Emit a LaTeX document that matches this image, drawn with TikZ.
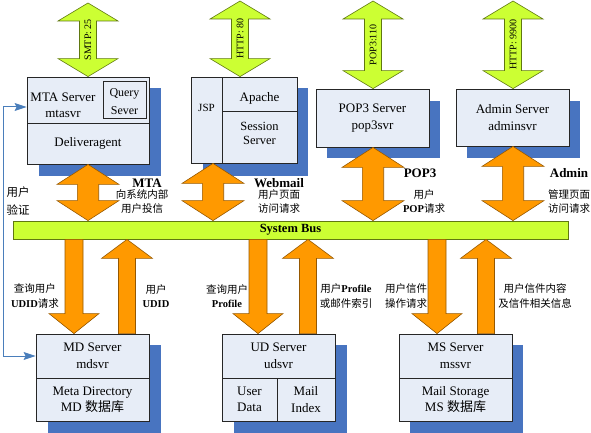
\documentclass[tikz,border=0pt]{standalone}
\usepackage{fontspec}
\setmainfont{Liberation Serif}
\newfontfamily\cjk{Noto Sans CJK SC}
\usetikzlibrary{calc,arrows.meta}
\definecolor{boxfill}{RGB}{231,237,247}
\definecolor{shadowblue}{RGB}{72,116,192}
\definecolor{limefill}{RGB}{204,255,51}
\definecolor{limeedge}{RGB}{96,120,16}
\definecolor{orangefill}{RGB}{255,153,0}
\definecolor{orangeedge}{RGB}{150,88,0}
\definecolor{linkblue}{RGB}{74,126,187}
\newcommand\zh[1]{{\cjk #1}}
\newcommand\bflat[1]{{\rmfamily\bfseries #1}}
% #1 style, #2 top tip, #3 bottom tip, #4 head half width, #5 shaft half width, #6 head length
\newcommand\dblarrow[6]{%
  \filldraw[#1] (#2) -- ++(#4,#6) -- ++(#5-#4,0) -- ($(#3)+(#5,-#6)$) -- ++(#4-#5,0)
    -- (#3) -- ++(-#4,-#6) -- ++(#4-#5,0) -- ($(#2)+(-#5,#6)$) -- ++(#5-#4,0) -- cycle;}
% #1 style, #2 tail, #3 tip, #4 head half width, #5 shaft half width, #6 head offset
\newcommand\onearrow[6]{%
  \filldraw[#1] ($(#2)+(-#5,0)$) -- ($(#3)+(-#5,#6)$) -- ++(#5-#4,0) -- (#3)
    -- ($(#3)+(#4,#6)$) -- ++(#5-#4,0) -- ($(#2)+(#5,0)$) -- cycle;}
\tikzset{
  box/.style={draw=black!85, fill=boxfill, line width=0.8pt, inner sep=0pt, align=center,
    font=\fontsize{13}{16.5}\selectfont},
  txt/.style={inner sep=0pt, align=center, font=\fontsize{13}{16}\selectfont},
  bus/.style={draw=limeedge, fill=limefill, line width=0.8pt, inner sep=0pt,
    font=\bfseries\fontsize{12.5}{12.5}\selectfont},
  greenarr/.style={fill=limefill, draw=limeedge, line width=0.6pt},
  orangearr/.style={fill=orangefill, draw=orangeedge, line width=0.6pt},
  portlbl/.style={rotate=90, inner sep=0pt, font=\fontsize{10}{10}\selectfont},
  headlbl/.style={inner sep=0pt, font=\bfseries\fontsize{13}{13}\selectfont},
  zhlbl/.style={inner sep=0pt, align=center, font=\cjk\fontsize{10.5}{14.5}\selectfont},
  link/.style={linkblue, line width=1pt,
    {Stealth[length=12pt,width=8pt,inset=2pt]}-{Stealth[length=12pt,width=8pt,inset=2pt]}},
}
\begin{document}
\begin{tikzpicture}[x=1pt, y=-1pt]
  \useasboundingbox (0,0) rectangle (591,433);
  % shadows behind the servers
  \foreach \a/\b/\c/\d in {39/88/161/176, 203/88/308/176, 327/101/440/158, 467/101/580/158,
      48/345/161/433, 234/345/347/433, 410/345/523/433}
    \fill[shadowblue] (\a,\b) rectangle (\c,\d);

  % servers
  \node[box, minimum width=122, minimum height=46] (mtatop) at (88,100) {};
  \node[box, minimum width=122, minimum height=41] (mtabot) at (88,143.5) {Deliveragent};
  \node[box, minimum width=43, minimum height=37] (query) at (124.5,99.5) {};
  \node[txt, font=\fontsize{12}{18}\selectfont] (querytxt) at (124.5,102) {Query\\Sever};
  \node[txt] (mtaname) at (63,105) {MTA Server\\mtasvr};
  \node[box, minimum width=31, minimum height=86] (jsp) at (206.5,120) {};
  \node[txt, font=\fontsize{11}{14}\selectfont] (jsptxt) at (206.5,108) {JSP};
  \node[box, minimum width=75, minimum height=34] (apache) at (259.5,94) {};
  \node[txt] (apachetxt) at (259.5,98) {Apache};
  \node[box, minimum width=75, minimum height=52] (session) at (259.5,137) {};
  \node[txt, font=\fontsize{12.5}{14}\selectfont] (sessiontxt) at (259.5,133) {Session\\Server};
  \node[box, minimum width=113, minimum height=58] (pop) at (372.5,118) {POP3 Server\\pop3svr};
  \node[box, minimum width=113, minimum height=57] (admin) at (512.5,117.5) {Admin Server\\adminsvr};
  \node[box, minimum width=113, minimum height=44] (mdtop) at (92.5,356) {MD Server\\mdsvr};
  \node[box, minimum width=113, minimum height=43] (mdbot) at (92.5,399.5) {Meta Directory\\MD \zh{数据库}};
  \node[box, minimum width=113, minimum height=44] (udtop) at (278.5,356) {UD Server\\udsvr};
  \node[box, minimum width=55, minimum height=43] (uduser) at (249.5,399.5) {User\\Data};
  \node[box, minimum width=58, minimum height=43] (udmail) at (306,399.5) {Mail\\Index};
  \node[box, minimum width=113, minimum height=44] (mstop) at (455.5,356) {MS Server\\mssvr};
  \node[box, minimum width=113, minimum height=43] (msbot) at (455.5,399.5) {Mail Storage\\MS \zh{数据库}};

  \node[bus, minimum width=555, minimum height=18] (bus) at (290.5,230) {System Bus};

  % outside ports
  \coordinate (smtp) at (88,3);
  \coordinate (http) at (240,1);
  \coordinate (pop3) at (373,1);
  \coordinate (mgmt) at (513,1);
  \dblarrow{greenarr}{smtp}{mtatop.north -| smtp}{30}{8.5}{18}
  \dblarrow{greenarr}{http}{apache.north -| http}{30}{8.5}{18}
  \dblarrow{greenarr}{pop3}{pop.north -| pop3}{30}{8.5}{18}
  \dblarrow{greenarr}{mgmt}{admin.north -| mgmt}{30}{8.5}{18}
  \node[portlbl] (smtplbl) at ($(smtp)!0.5!(mtatop.north -| smtp)$) {SMTP: 25};
  \node[portlbl] (httplbl) at ($(http)!0.5!(apache.north -| http)$) {HTTP: 80};
  \node[portlbl] (pop3lbl) at ($(pop3)!0.5!(pop.north -| pop3)$) {POP3:110};
  \node[portlbl] (mgmtlbl) at ($(mgmt)!0.5!(admin.north -| mgmt)$) {HTTP: 9900};

  % front ends to bus
  \coordinate (xmta) at (88,0);
  \coordinate (xweb) at (213,0);
  \dblarrow{orangearr}{mtabot.south -| xmta}{bus.north -| xmta}{31}{10.7}{20}
  \dblarrow{orangearr}{jsp.south -| xweb}{bus.north -| xweb}{31}{10.7}{20}
  \dblarrow{orangearr}{pop.south -| pop3}{bus.north -| pop3}{31}{10.7}{20}
  \dblarrow{orangearr}{admin.south -| mgmt}{bus.north -| mgmt}{31}{10.7}{20}

  % bus to back ends
  \foreach \dn/\up/\srv in {74/127/mdtop, 258/308/udtop, 437/486/mstop} {
    \coordinate (dn) at (\dn,0);
    \coordinate (up) at (\up,0);
    \onearrow{orangearr}{bus.south -| dn}{\srv.north -| dn}{25}{9}{-20}
    \onearrow{orangearr}{\srv.north -| up}{bus.south -| up}{25.5}{8.5}{19}
  }

  \draw[link] ([yshift=-7pt]mtatop.west) -- ++(-23,0) |- (mdtop.west);

  % labels
  \node[zhlbl, font=\cjk\fontsize{11.5}{18}\selectfont] (authlbl) at (18,201) {用户\\验证};
  \node[headlbl] (mtahd) at (147,183) {MTA};
  \node[zhlbl] (mtazh) at (142,201.5) {向系统内部\\用户投信};
  \node[headlbl] (webhd) at (279,183) {Webmail};
  \node[zhlbl] (webzh) at (279,201.5) {用户页面\\访问请求};
  \node[headlbl] (pophd) at (420,173) {POP3};
  \node[zhlbl] (popzh) at (424,201.5) {用户\\\bflat{POP}请求};
  \node[headlbl] (admhd) at (569,173) {Admin};
  \node[zhlbl] (admzh) at (569,201.5) {管理页面\\访问请求};

  \node[zhlbl] (mdqry) at (35,296) {查询用户\\\bflat{UDID}请求};
  \node[zhlbl] (mdans) at (156,296) {用户\\\bflat{UDID}};
  \node[zhlbl] (udqry) at (227,296) {查询用户\\\bflat{Profile}};
  \node[zhlbl] (udans) at (346,296) {用户\bflat{Profile}\\或邮件索引};
  \node[zhlbl] (msqry) at (406,296) {用户信件\\操作请求};
  \node[zhlbl] (msans) at (535,296) {用户信件内容\\及信件相关信息};
\end{tikzpicture}
\end{document}
